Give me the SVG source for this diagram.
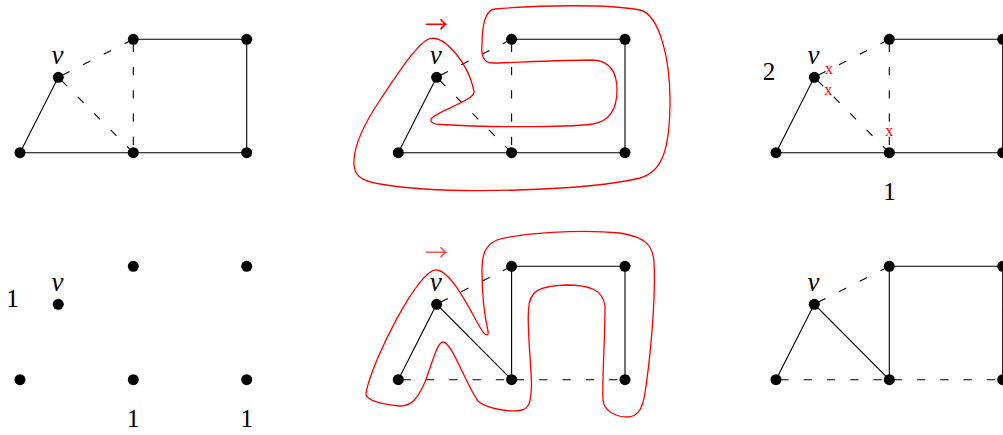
<svg xmlns="http://www.w3.org/2000/svg" width="1003" height="435" viewBox="0 0 1003 435">
<style>
.s{stroke:#000;stroke-width:1.1;fill:none}
.d{stroke:#000;stroke-width:1.1;fill:none;stroke-dasharray:8.3 15;stroke-dashoffset:19}
.n{fill:#000}
.v{font-family:"Liberation Serif","Times New Roman",serif;font-style:italic;font-size:27px;text-anchor:middle;fill:#000}
.num{font-family:"Liberation Serif","Times New Roman",serif;font-size:25px;text-anchor:middle;fill:#000}
.x{font-family:"Liberation Serif","Times New Roman",serif;font-size:16px;text-anchor:middle;fill:#f00}
.arr{font-family:"Noto Sans CJK SC","DejaVu Sans",sans-serif;font-size:23px;text-anchor:middle}
.curve{fill:none;stroke:#f00;stroke-width:1.3}
</style>
<rect width="1003" height="435" fill="#fff"/>
<g id="connectors">
<path class="s" d="M20,152.7L58.3,77.3M20,152.7H246.7M246.7,152.7V39.3M133.3,39.3H246.7"/>
<path class="d" d="M58.3,77.3L133.3,39.3"/>
<path class="d" d="M58.3,77.3L133.3,152.7"/>
<path class="d" d="M133.3,39.3V152.7"/>
<path class="s" d="M398.3,152.7L436.6,77.3M398.3,152.7H625M625,152.7V39.3M511.6,39.3H625"/>
<path class="d" d="M436.6,77.3L511.6,39.3"/>
<path class="d" d="M436.6,77.3L511.6,152.7"/>
<path class="d" d="M511.6,39.3V152.7"/>
<path class="s" d="M776,152.7L814.3,77.3M776,152.7H1002.7M1002.7,152.7V39.3M889.3,39.3H1002.7"/>
<path class="d" d="M814.3,77.3L889.3,39.3"/>
<path class="d" d="M814.3,77.3L889.3,152.7"/>
<path class="d" d="M889.3,39.3V152.7"/>
<path class="s" d="M398.3,379.7L436.6,304.3L511.6,379.7V266.3H625V379.7"/>
<path class="d" d="M436.6,304.3L511.6,266.3"/>
<path class="d" d="M398.3,379.7H511.6"/>
<path class="d" d="M511.6,379.7H625"/>
<path class="s" d="M776,379.7L814.3,304.3L889.3,379.7V266.3H1002.7V379.7"/>
<path class="d" d="M814.3,304.3L889.3,266.3"/>
<path class="d" d="M776,379.7H889.3"/>
<path class="d" d="M889.3,379.7H1002.7"/>
</g>
<g id="walk-top">
<path class="curve" d="M431.7,38.3C445,37 468,62 474,91C476,100 440,110 432,118C429,121 432,124.5 441,124.5C480,127 560,128 593,124C610,121 617,108 617,90C617,72 610,61 593,60C560,60 505,63 493,63C483,63 481,55 482,45C482,28 484,10 495,9C540,5 610,4 640,10C660,15 670,60 670,100C670,150 662,172 640,178C590,190 450,196 380,184C360,181 353,175 354,160C355,140 368,118 380,100C395,78 420,38 431.7,38.3Z"/>
<text class="arr" x="436.5" y="33" fill="#f00">→</text>
</g>
<g id="walk-bottom">
<path class="curve" d="M437,270C420,266 372,360 366,393C365,400 380,404 400,406C412,406 418,398 425,382C432,364 437,342 443,342C452,342 466,385 478,401C485,408 510,413 522,410C530,408 531,400 531.5,385C531,360 527,330 528.5,310C529,290 540,286 566,285C590,285 603,290 605,306C605,340 602,380 603,400C604,412 618,417 627,417C640,417 643,405 645,393C650,360 656,300 654,262C653,245 645,237 620,233C580,229 520,233 497,240C485,245 482,255 482,270C482,295 485,318 488,331C489,337 485,336 481,329C470,310 452,272 437,270Z"/>
<text class="arr" x="436.5" y="261.3" fill="#f55">→</text>
</g>
<g id="p1-v"><circle class="n" cx="58.3" cy="77.3" r="5.5"/><text class="v" x="57.5" y="63.5">v</text></g>
<g id="p1-l"><circle class="n" cx="20" cy="152.7" r="5.5"/></g>
<g id="p1-m"><circle class="n" cx="133.3" cy="152.7" r="5.5"/></g>
<g id="p1-r"><circle class="n" cx="246.7" cy="152.7" r="5.5"/></g>
<g id="p1-tm"><circle class="n" cx="133.3" cy="39.3" r="5.5"/></g>
<g id="p1-tr"><circle class="n" cx="246.7" cy="39.3" r="5.5"/></g>
<g id="p2-v"><circle class="n" cx="436.6" cy="77.3" r="5.5"/><text class="v" x="435.8" y="63.5">v</text></g>
<g id="p2-l"><circle class="n" cx="398.3" cy="152.7" r="5.5"/></g>
<g id="p2-m"><circle class="n" cx="511.6" cy="152.7" r="5.5"/></g>
<g id="p2-r"><circle class="n" cx="625" cy="152.7" r="5.5"/></g>
<g id="p2-tm"><circle class="n" cx="511.6" cy="39.3" r="5.5"/></g>
<g id="p2-tr"><circle class="n" cx="625" cy="39.3" r="5.5"/></g>
<g id="p3-v"><circle class="n" cx="814.3" cy="77.3" r="5.5"/><text class="v" x="813.5" y="63.5">v</text><text class="num" x="769" y="80">2</text></g>
<g id="p3-l"><circle class="n" cx="776" cy="152.7" r="5.5"/></g>
<g id="p3-m"><circle class="n" cx="889.3" cy="152.7" r="5.5"/><text class="num" x="889.5" y="200">1</text></g>
<g id="p3-r"><circle class="n" cx="1002.7" cy="152.7" r="5.5"/></g>
<g id="p3-tm"><circle class="n" cx="889.3" cy="39.3" r="5.5"/></g>
<g id="p3-tr"><circle class="n" cx="1002.7" cy="39.3" r="5.5"/></g>
<g id="p3-marks"><text class="x" x="829" y="73.5">x</text><text class="x" x="828.3" y="95">x</text><text class="x" x="889.3" y="136">x</text></g>
<g id="p4-v"><circle class="n" cx="58.3" cy="304.3" r="5.5"/><text class="v" x="57.5" y="290.5">v</text><text class="num" x="12.5" y="306.7">1</text></g>
<g id="p4-l"><circle class="n" cx="20" cy="379.7" r="5.5"/></g>
<g id="p4-m"><circle class="n" cx="133.3" cy="379.7" r="5.5"/><text class="num" x="133.3" y="426.7">1</text></g>
<g id="p4-r"><circle class="n" cx="246.7" cy="379.7" r="5.5"/><text class="num" x="246.7" y="426.7">1</text></g>
<g id="p4-tm"><circle class="n" cx="133.3" cy="266.3" r="5.5"/></g>
<g id="p4-tr"><circle class="n" cx="246.7" cy="266.3" r="5.5"/></g>
<g id="p5-v"><circle class="n" cx="436.6" cy="304.3" r="5.5"/><text class="v" x="435.8" y="290.5">v</text></g>
<g id="p5-l"><circle class="n" cx="398.3" cy="379.7" r="5.5"/></g>
<g id="p5-m"><circle class="n" cx="511.6" cy="379.7" r="5.5"/></g>
<g id="p5-r"><circle class="n" cx="625" cy="379.7" r="5.5"/></g>
<g id="p5-tm"><circle class="n" cx="511.6" cy="266.3" r="5.5"/></g>
<g id="p5-tr"><circle class="n" cx="625" cy="266.3" r="5.5"/></g>
<g id="p6-v"><circle class="n" cx="814.3" cy="304.3" r="5.5"/><text class="v" x="813.5" y="290.5">v</text></g>
<g id="p6-l"><circle class="n" cx="776" cy="379.7" r="5.5"/></g>
<g id="p6-m"><circle class="n" cx="889.3" cy="379.7" r="5.5"/></g>
<g id="p6-r"><circle class="n" cx="1002.7" cy="379.7" r="5.5"/></g>
<g id="p6-tm"><circle class="n" cx="889.3" cy="266.3" r="5.5"/></g>
<g id="p6-tr"><circle class="n" cx="1002.7" cy="266.3" r="5.5"/></g>
</svg>
